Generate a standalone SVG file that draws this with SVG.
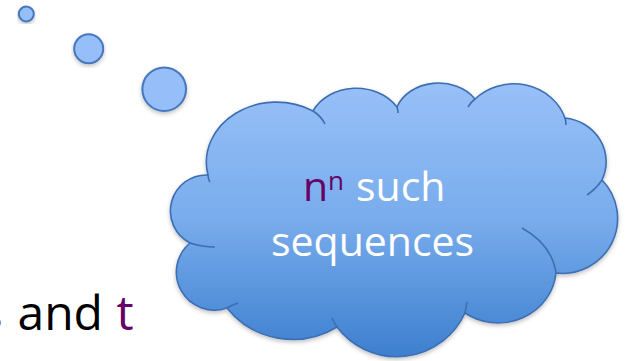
<svg xmlns="http://www.w3.org/2000/svg" width="625" height="361" viewBox="0 0 625 361">
  <defs>
    <linearGradient id="cloudFill" x1="0" y1="0" x2="0" y2="1">
      <stop offset="0" stop-color="#98C0F8"/>
      <stop offset="0.5" stop-color="#78ACEC"/>
      <stop offset="1" stop-color="#3D7FCF"/>
    </linearGradient>
    <filter id="shadow" x="-10%" y="-10%" width="120%" height="125%">
      <feDropShadow dx="0" dy="2" stdDeviation="2" flood-color="#000" flood-opacity="0.25"/>
    </filter>
    <style>
      .bubble { fill: #96BEF8; stroke: #4677BC; stroke-width: 2; }
      .cloud { fill: url(#cloudFill); stroke: #3D6EB2; stroke-width: 1.6; }
      .inner { fill: none; stroke: #3D6EB2; stroke-width: 1.6; }
      .txt { font-family: "Open Sans", "Noto Sans", "Liberation Sans", sans-serif; }
      .white { fill: #FFFFFF; }
      .purple { fill: #660066; }
      .black { fill: #000000; }
    </style>
  </defs>

  <rect width="625" height="361" fill="#FFFFFF"/>

  <g id="bubble-small" filter="url(#shadow)">
    <circle class="bubble" cx="26.3" cy="14" r="7.5"/>
  </g>
  <g id="bubble-medium" filter="url(#shadow)">
    <circle class="bubble" cx="88.7" cy="48.7" r="14.5"/>
  </g>
  <g id="bubble-large" filter="url(#shadow)">
    <circle class="bubble" cx="164.2" cy="89.2" r="21.8"/>
  </g>

  <g id="cloud">
    <path class="cloud" filter="url(#shadow)" d="M208 175
      A70 60 0 0 1 313 111
      A48 40 0 0 1 397 107
      A44 36 0 0 1 475 99
      A54 50 0 0 1 565 118
      A46 44 0 0 1 602 180
      A55 55 0 0 1 556 273
      A58 55 0 0 1 465 313
      A75 75 0 0 1 337 327
      A82 78 0 0 1 227 308
      A38 38 0 0 1 190 243
      A36 36 0 0 1 208 175 Z"/>
    <path class="inner" d="M208 175 Q208 179 210 182"/>
    <path class="inner" d="M313 111 Q321 116 325 124"/>
    <path class="inner" d="M397 107 Q398 110 398 113"/>
    <path class="inner" d="M475 99 Q471 102 468 107"/>
    <path class="inner" d="M565 118 Q566 121 566 125"/>
    <path class="inner" d="M602 180 Q596 189 587 195"/>
    <path class="inner" d="M522 228 C540 238 553 252 556 273"/>
    <path class="inner" d="M465 313 Q466 307 467 302"/>
    <path class="inner" d="M337 327 Q334 322 332 318"/>
    <path class="inner" d="M227 308 Q232 305 238 303"/>
    <path class="inner" d="M190 243 Q202 247 215 247"/>
    <text class="txt" font-size="41"><tspan class="purple" x="303" y="201">n</tspan><tspan class="purple" x="328" y="190" font-size="26">n</tspan><tspan class="white" x="356" y="201">such</tspan></text>
    <text class="txt white" font-size="41" x="271" y="256">sequences</text>
  </g>

  <g id="caption">
    <text class="txt purple" font-size="48" x="2.5" y="330" text-anchor="end">s</text>
    <text class="txt" font-size="48" y="330"><tspan class="black" x="17.5">and</tspan><tspan class="purple" x="116.5">t</tspan></text>
  </g>
</svg>
